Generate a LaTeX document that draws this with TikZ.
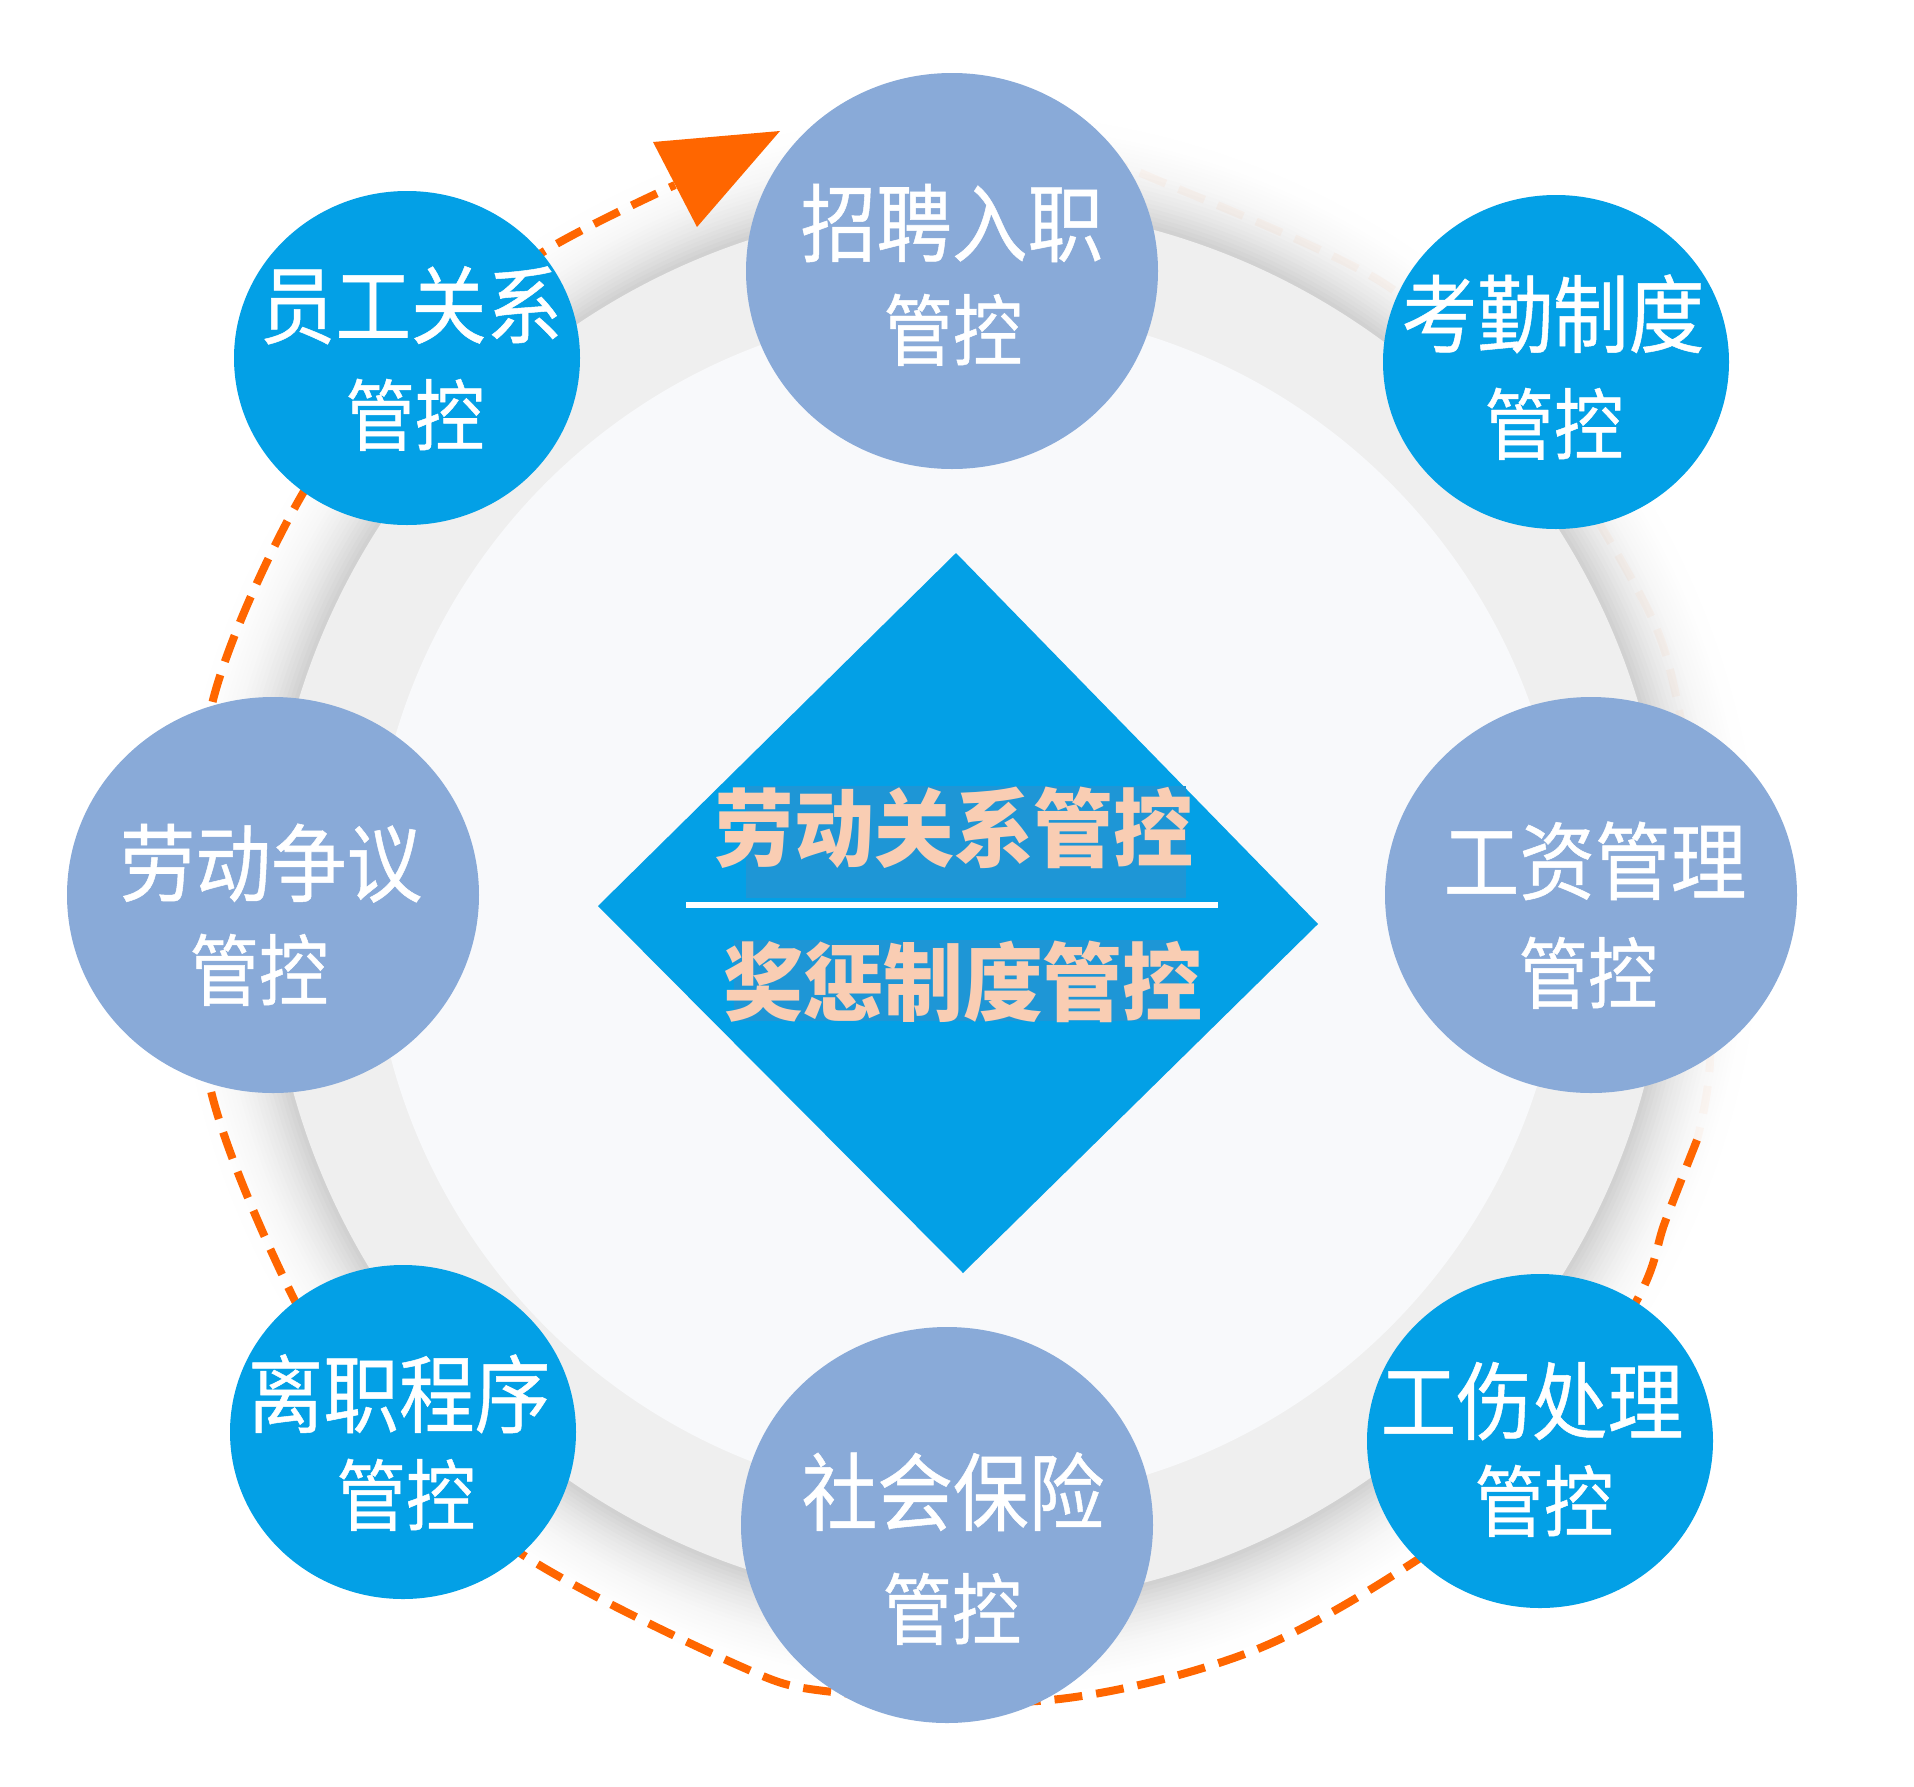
\documentclass[tikz,border=0pt]{standalone}
\usepackage{fontspec}
\setmainfont{Noto Sans CJK SC}
\newfontfamily\cjkmid{Noto Sans CJK SC}[FakeBold=0.6]
\usepackage{graphicx}
\usetikzlibrary{shapes.geometric}
\definecolor{cblue}{HTML}{03A0E6}
\definecolor{cgray}{HTML}{89AAD8}
\definecolor{corange}{HTML}{FF6600}
\definecolor{ringband}{HTML}{EFEFEF}
\definecolor{ringin}{HTML}{F8F9FB}
\definecolor{dblue}{HTML}{1E96D6}
\definecolor{peach}{HTML}{F9CDB3}
\newcommand\sqa[1]{\scalebox{0.89}[1]{#1}}
\newcommand\sqc[1]{\scalebox{0.94}[1]{#1}}
\begin{document}
\begin{tikzpicture}[x=1pt,y=-1pt,
  bubble/.style={ellipse, inner sep=0pt, draw=none},
  bluebub/.style={bubble, fill=cblue, minimum width=346pt, minimum height=334pt},
  graybub/.style={bubble, fill=cgray, minimum width=412pt, minimum height=396pt},
  lineA/.style={text=white, inner sep=0pt, text height=70.5pt, text depth=6pt, font=\cjkmid\fontsize{85}{85}\selectfont},
  lineB/.style={text=white, inner sep=0pt, text height=64.7pt, text depth=5.5pt, font=\cjkmid\fontsize{78}{78}\selectfont},
  ctext/.style={text=peach, inner sep=0pt, text height=70.5pt, text depth=6pt, font=\fontsize{85}{85}\selectfont\bfseries},
  dashline/.style={draw=corange, line width=8pt, dash pattern=on 28pt off 14pt}]
\useasboundingbox (0,0) rectangle (1914,1786);
\fill[white] (0,0) rectangle (1914,1786);
% ring with soft outer shadow
\coordinate (rc) at (968,905);
\foreach \r in {812,808,...,704} {
  \pgfmathsetmacro\g{100-20*((1-(\r-700)/112)^2.6)}
  \fill[white!\g!black] (rc) circle[radius=\r pt];
}
\fill[ringband] (rc) circle[radius=700pt];
\fill[ringin] (rc) circle[radius=597pt];
% faint continuation of the cycle
\draw[dashline, opacity=0.04] plot[smooth] coordinates {(1100,160) (1150,177) (1383,283) (1530,420) (1643,600) (1677,700) (1705,880) (1710,1060) (1697,1140)};
% main dashed cycle
\coordinate (cs) at (1697,1140);
\coordinate (ce) at (675,185);
\draw[dashline] plot[smooth, tension=0.55] coordinates {(cs) (1665,1222) (1637,1300) (1530,1470) (1417,1560) (1250,1652) (1050,1700) (833,1692) (733,1663) (520,1553) (380,1430) (293,1297) (210,1087) (200,893) (213,700) (303,493) (420,345) (543,252) (ce)};
\coordinate (ab1) at (653,142);
\coordinate (atip) at (780,131);
\coordinate (ab2) at (697,227);
\fill[corange] (ab1) -- (atip) -- (ab2) -- cycle;
% bubbles
\node[graybub] (n1) at (952,271) {};
\node[bluebub] (n2) at (1556,362) {};
\node[graybub] (n3) at (1591,895) {};
\node[bluebub] (n4) at (1540,1441) {};
\node[graybub] (n5) at (947,1525) {};
\node[bluebub] (n6) at (403,1432) {};
\node[graybub] (n7) at (273,895) {};
\node[bluebub] (n8) at (407,358) {};
% bubble texts
\node[lineA] (t1a) at (952,223) {\sqa{招聘入职}};
\node[lineB] (t1b) at (953,330) {\sqa{管控}};
\node[lineA] (t2a) at (1553,314) {\sqa{考勤制度}};
\node[lineB] (t2b) at (1554,424) {\sqa{管控}};
\node[lineA] (t3a) at (1595,861) {\sqa{工资管理}};
\node[lineB] (t3b) at (1588,973) {\sqa{管控}};
\node[lineA] (t4a) at (1532,1401) {\sqa{工伤处理}};
\node[lineB] (t4b) at (1544,1501) {\sqa{管控}};
\node[lineA] (t5a) at (953,1492) {\sqa{社会保险}};
\node[lineB] (t5b) at (952,1609) {\sqa{管控}};
\node[lineA] (t6a) at (399,1394) {\sqa{离职程序}};
\node[lineB] (t6b) at (406,1495) {\sqa{管控}};
\node[lineA] (t7a) at (271,863) {\sqa{劳动争议}};
\node[lineB] (t7b) at (259,970) {\sqa{管控}};
\node[lineA] (t8a) at (411,305) {\sqa{员工关系}};
\node[lineB] (t8b) at (415,415) {\sqa{管控}};
% central diamond
\coordinate (dT) at (956,553);
\coordinate (dR) at (1318,924);
\coordinate (dB) at (963,1273);
\coordinate (dL) at (598,906);
\fill[cblue] (dT) -- (dR) -- (dB) -- (dL) -- cycle;
\fill[dblue] (746,786) rectangle (1186,898);
\fill[dblue] (734,940) rectangle (1179,1021);
\coordinate (wl1) at (686,905);
\coordinate (wl2) at (1218,905);
\draw[white, line width=6pt] (wl1) -- (wl2);
\node[ctext] (c1) at (954,828) {\sqc{劳动关系管控}};
\node[ctext] (c2) at (963,982) {\sqc{奖惩制度管控}};
\end{tikzpicture}
\end{document}
